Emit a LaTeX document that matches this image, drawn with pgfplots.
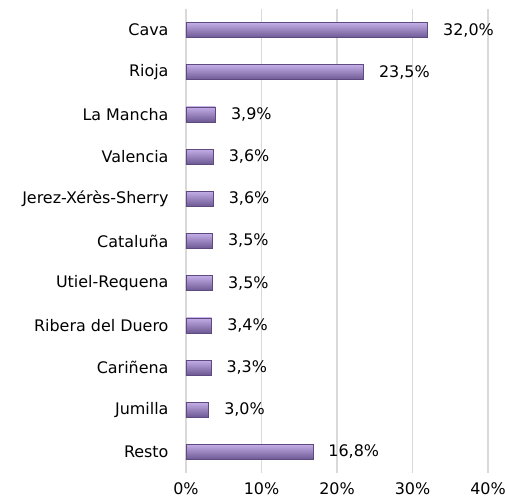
\documentclass[border=0pt]{standalone}
\usepackage{pgfplots}
\pgfplotsset{compat=1.18}
\usepackage{fontspec}
\setmainfont{DejaVu Sans}
\definecolor{barA}{HTML}{C4AEE8}
\definecolor{barB}{HTML}{9F87CC}
\definecolor{barC}{HTML}{6C5892}
\definecolor{barE}{HTML}{5E4A7E}
\definecolor{gridc}{HTML}{D9D9D9}
\pgfplotsset{mybar/.style={draw=barE, line width=0.6bp, top color=barA, middle color=barB, bottom color=barC, bar shift=0pt}}
\begin{document}
\begin{tikzpicture}
\useasboundingbox (-186bp,-29bp) rectangle (319bp,473bp);
\begin{axis}[
  at={(0,0)}, anchor=south west,
  scale only axis,
  width=302bp, height=464bp,
  xbar, bar width=15bp,
  xmin=0, xmax=40,
  ymin=-0.5, ymax=10.5,
  y dir=reverse,
  ytick={0,...,10},
  yticklabels={Cava,Rioja,La Mancha,Valencia,Jerez-Xérès-Sherry,Cataluña,Utiel-Requena,Ribera del Duero,Cariñena,Jumilla,Resto},
  xtick={0,10,20,30,40},
  xticklabel={\pgfmathprintnumber{\tick}\%},
  /pgf/number format/assume math mode=true,
  tick label style={font=\fontsize{16}{18}\selectfont, text=black},
  yticklabel style={xshift=-14bp},
  xticklabel style={yshift=-6bp},
  major tick length=0pt,
  axis line style={draw=none},
  xmajorgrids,
  grid style={draw=gridc, line width=1.5bp},
  nodes near coords={\pgfmathprintnumber[fixed,fixed zerofill,precision=1,use comma]{\pgfplotspointmeta}\%},
  nodes near coords style={anchor=west, xshift=12bp, font=\fontsize{16}{18}\selectfont, text=black},
  clip=false,
]
\addplot[mybar] coordinates {(32.0,0)};
\addplot[mybar] coordinates {(23.5,1)};
\addplot[mybar] coordinates {(3.9,2)};
\addplot[mybar] coordinates {(3.6,3)};
\addplot[mybar] coordinates {(3.6,4)};
\addplot[mybar] coordinates {(3.5,5)};
\addplot[mybar] coordinates {(3.5,6)};
\addplot[mybar] coordinates {(3.4,7)};
\addplot[mybar] coordinates {(3.3,8)};
\addplot[mybar] coordinates {(3.0,9)};
\addplot[mybar] coordinates {(16.8,10)};
\end{axis}
\end{tikzpicture}
\end{document}
